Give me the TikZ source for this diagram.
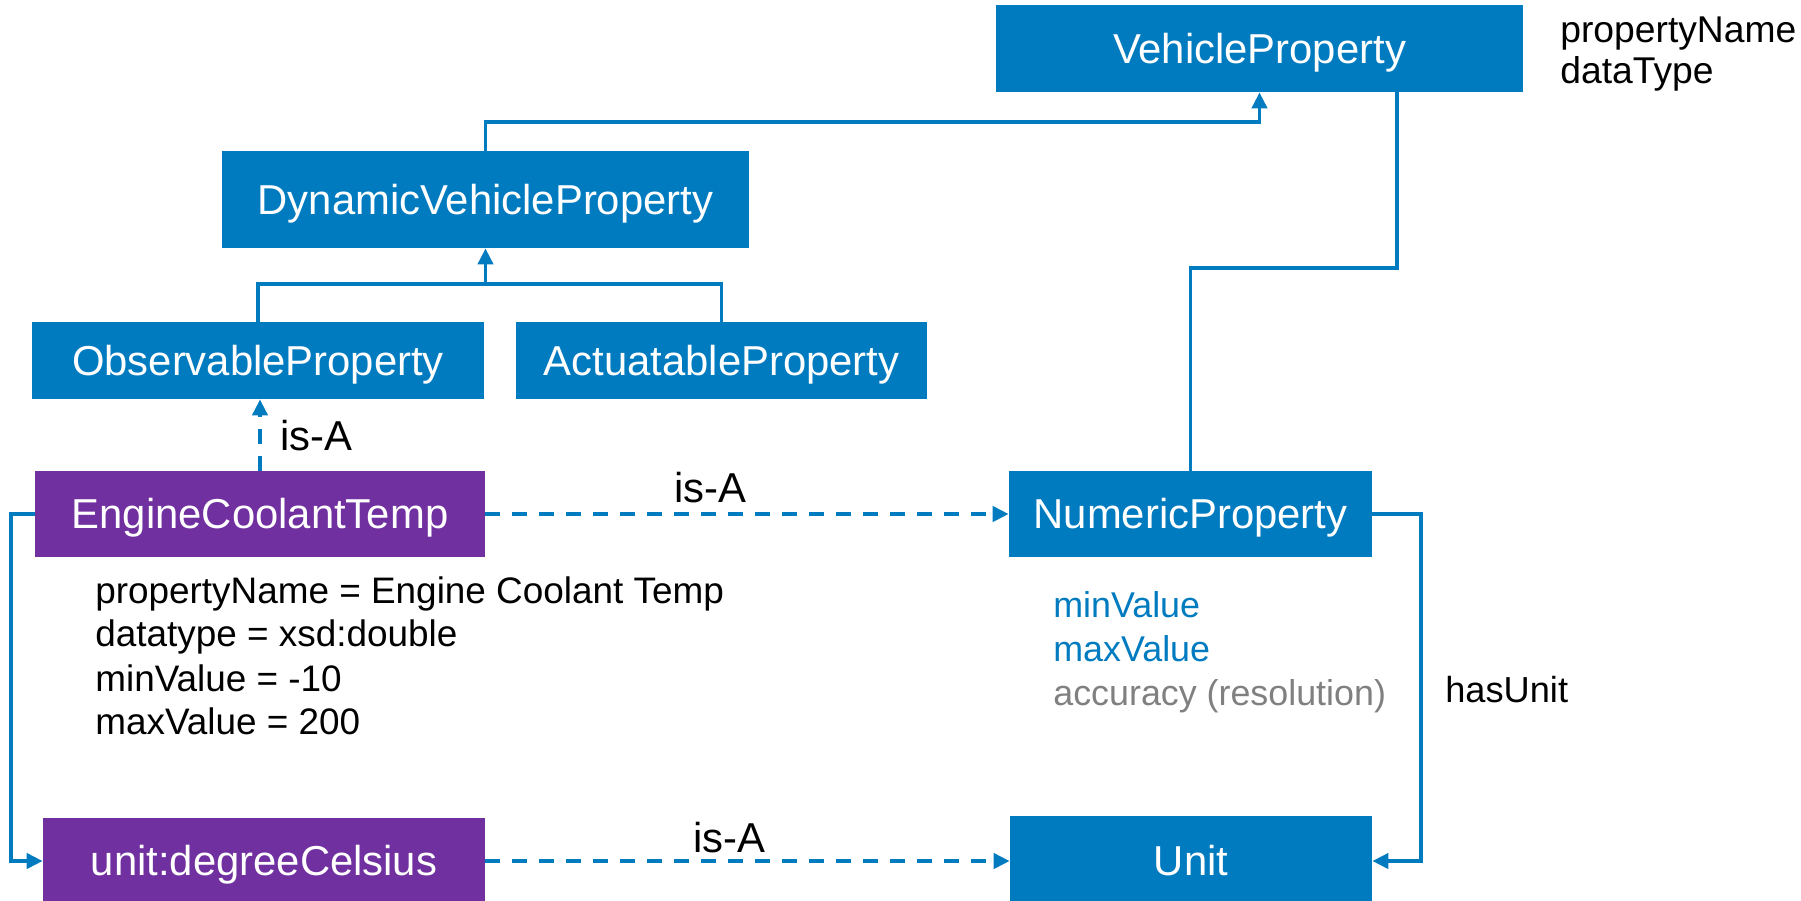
\documentclass[tikz,border=0pt]{standalone}
\usepackage{fontspec}
\setmainfont{Liberation Sans}
\usetikzlibrary{arrows.meta}
\definecolor{bblue}{HTML}{007BC0}
\definecolor{bpurple}{HTML}{7030A0}
\definecolor{bgray}{HTML}{808080}
\begin{document}
\begin{tikzpicture}[x=0.02cm, y=-0.02cm,
  bluebox/.style={fill=bblue, text=white, inner sep=0pt, font=\fontsize{23.8}{28}\selectfont, text height=17pt, text depth=0pt},
  purplebox/.style={bluebox, fill=bpurple},
  conn/.style={draw=bblue, line width=2.2pt},
  arr/.style={-{Triangle[length=0.32cm,width=0.30cm]}},
  isa/.style={conn, dash pattern=on 0.3cm off 0.24cm},
  isalbl/.style={inner sep=0pt, anchor=base, font=\fontsize{23.8}{28}\selectfont},
  txt/.style={inner sep=0pt, anchor=base west, font=\fontsize{21}{25}\selectfont},
  ntxt/.style={inner sep=0pt, anchor=base west, font=\fontsize{20.4}{24}\selectfont}]
\useasboundingbox (0,0) rectangle (1801,900);

% boxes
\node[bluebox, minimum width=10.54cm, minimum height=1.74cm] (vp) at (1259.5,48.5) {VehicleProperty};
\node[bluebox, minimum width=10.54cm, minimum height=1.94cm] (dvp) at (485.5,199.5) {DynamicVehicleProperty};
\node[bluebox, minimum width=9.04cm, minimum height=1.54cm] (op) at (258,360.5) {ObservableProperty};
\node[bluebox, minimum width=8.22cm, minimum height=1.54cm] (ap) at (721.5,360.5) {ActuatableProperty};
\node[purplebox, minimum width=9.0cm, minimum height=1.72cm] (ect) at (260,514) {EngineCoolantTemp};
\node[bluebox, minimum width=7.26cm, minimum height=1.72cm] (np) at (1190.5,514) {NumericProperty};
\node[purplebox, minimum width=8.84cm, minimum height=1.72cm] (udc) at (264,861) {unit:degreeCelsius};
\node[bluebox, minimum width=7.24cm, minimum height=1.80cm] (unit) at (1191,861) {Unit};

% connectors
\draw[conn, arr] (dvp.north) -- ++(0,-29) -| (vp.south);
\draw[conn] ([xshift=-2.52cm]vp.south east) -- ++(0,176) -| (np.north);
\draw[conn] (op.north) -- ++(0,-38) -| (ap.north);
\coordinate (join) at ([yshift=-0.72cm]dvp.south);
\draw[conn, arr] (join) -- (dvp.south);
\draw[isa, arr] (ect.north) -- (ect.north |- op.south);
\draw[isa, arr] (ect.east) -- (np.west);
\draw[conn, arr] (ect.west) -- ++(-23.5,0) |- (udc.west);
\draw[isa, arr] (udc.east) -- (unit.west);
\draw[conn, arr] (np.east) -- ++(49,0) |- (unit.east);

% labels
\node[isalbl, anchor=base west] (isa1) at (280,450) {is-A};
\node[isalbl] (isa2) at (710,502) {is-A};
\node[isalbl] (isa3) at (729,852) {is-A};
\node[inner sep=0pt, anchor=base west, font=\fontsize{20.6}{24}\selectfont] (hasunit) at (1445,702) {hasUnit};

\node[txt, font=\fontsize{21.2}{25}\selectfont] (vpa1) at (1560,42) {propertyName};
\node[txt, font=\fontsize{21.2}{25}\selectfont] (vpa2) at (1560,83) {dataType};

\node[txt] (ea1) at (95,603) {propertyName = Engine Coolant Temp};
\node[txt] (ea2) at (95,646) {datatype = xsd:double};
\node[txt] (ea3) at (95,691) {minValue = -10};
\node[txt] (ea4) at (95,734) {maxValue = 200};

\node[ntxt, text=bblue] (na1) at (1053,617) {minValue};
\node[ntxt, text=bblue] (na2) at (1053,661) {maxValue};
\node[ntxt, text=bgray] (na3) at (1053,705) {accuracy (resolution)};
\end{tikzpicture}
\end{document}
